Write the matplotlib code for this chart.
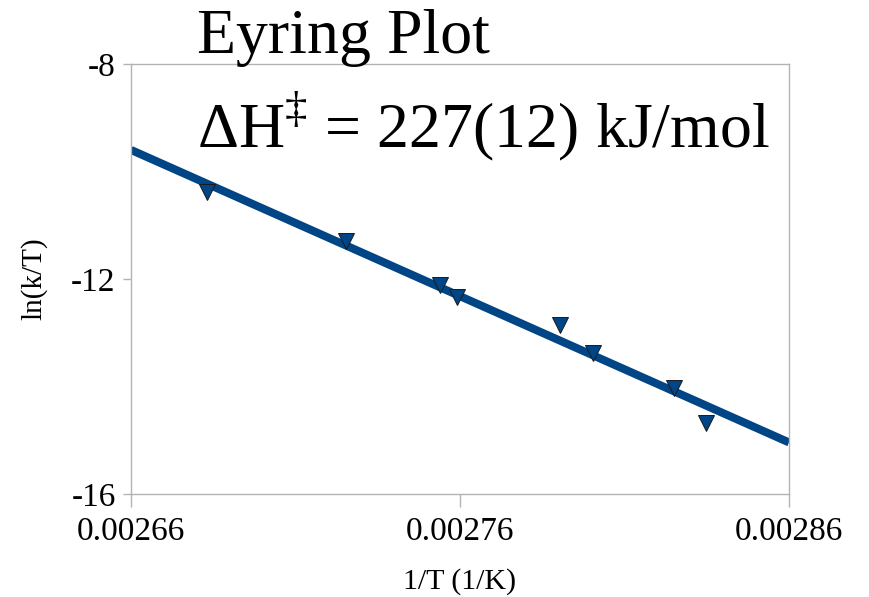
import numpy as np
import matplotlib
matplotlib.use("Agg")
import matplotlib.pyplot as plt

plt.rcParams['font.family'] = ['Liberation Serif', 'DejaVu Serif']
plt.rcParams['mathtext.fontset'] = 'custom'
plt.rcParams['mathtext.rm'] = 'Liberation Serif'

# data
inv_T = [0.002683, 0.0027254, 0.0027539, 0.002759, 0.0027904, 0.0028005, 0.0028251, 0.0028347]
ln_kT = [-10.39, -11.29, -12.11, -12.33, -12.86, -13.38, -14.02, -14.68]
x_ticks = [0.00266, 0.00276, 0.00286]
x_ticklabels = ['0.00266', '0.00276', '0.00286']
y_ticks = [-16, -12, -8]
y_ticklabels = ['-16', '-12', '-8']

blue = '#004586'
grey = '#b3b3b3'

fig = plt.figure(figsize=(8.7, 5.97), dpi=100)
ax = fig.add_axes([0.1506, 0.1725, 0.7563, 0.7203])

# linear fit (trend line)
slope, icpt = np.polyfit(inv_T, ln_kT, 1)
xfit = np.array([x_ticks[0], x_ticks[-1]])
ax.plot(xfit, slope * xfit + icpt, color=blue, lw=5.8, solid_capstyle='butt', zorder=2)
ax.plot(inv_T, ln_kT, linestyle='none', marker='v', ms=12, color=blue,
        markeredgecolor='#1a1a1a', markeredgewidth=0.7, zorder=3)

ax.set_xlim(x_ticks[0], x_ticks[-1])
ax.set_ylim(-16, -8)
ax.set_xticks(x_ticks)
ax.set_xticklabels(x_ticklabels)
ax.set_yticks(y_ticks)
ax.set_yticklabels(y_ticklabels)
ax.tick_params(axis='x', length=9, width=1, color=grey, labelsize=24, pad=7)
ax.tick_params(axis='y', length=6, width=1, color=grey, labelsize=24, pad=5)
for s in ax.spines.values():
    s.set_color(grey)
    s.set_linewidth(1)

ax.set_xlabel('1/T (1/K)', fontsize=21.5, labelpad=15)
ax.set_ylabel('ln(k/T)', fontsize=21, labelpad=17)

fig.text(197 / 870, 1 - 53 / 597, 'Eyring Plot', fontsize=46, ha='left', va='baseline')
fig.text(197 / 870, 1 - 147 / 597, r'ΔH$^{\mathrm{‡}}$ = 227(12) kJ/mol', fontsize=46,
         ha='left', va='baseline')

fig.savefig('out.png', dpi=100)
